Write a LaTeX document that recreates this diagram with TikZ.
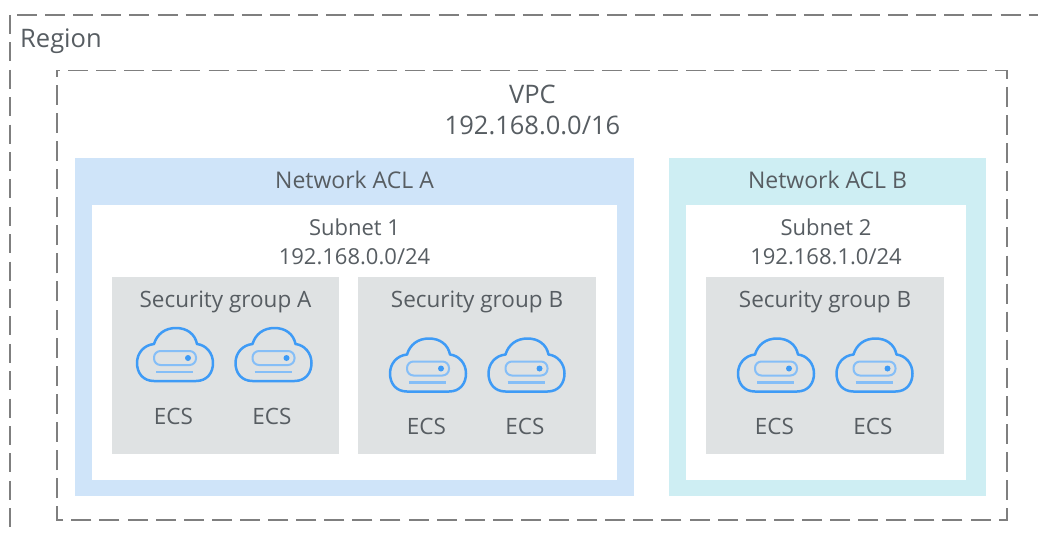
\documentclass[tikz,border=0pt]{standalone}
\usepackage{fontspec}
\setmainfont{Open Sans}
\definecolor{txt}{HTML}{575D62}
\definecolor{dashc}{HTML}{7F7F7F}
\definecolor{aclA}{HTML}{CFE4F9}
\definecolor{aclB}{HTML}{CEEEF3}
\definecolor{sg}{HTML}{DFE2E3}
\definecolor{ico}{HTML}{3E9BF6}
\definecolor{icol}{HTML}{85BEF7}
\tikzset{
 x=1pt,y=-1pt,
 lbl/.style={text=txt,font=\fontsize{22.5}{29}\selectfont,align=center,inner sep=0pt},
 acl/.style={text=txt,font=\fontsize{23}{29}\selectfont,align=center,inner sep=0pt},
 sub/.style={text=txt,font=\fontsize{22}{29}\selectfont,align=center,inner sep=0pt},
 big/.style={text=txt,font=\fontsize{25.5}{31}\selectfont,align=center,inner sep=0pt},
 dbox/.style={draw=dashc,line width=1.5pt,dash pattern=on 20pt off 8.1pt},
 dboxv/.style={draw=dashc,line width=1.5pt,dash pattern=on 19pt off 8.4pt},
 pics/ecs/.style={code={
  \draw[ico,line width=2.5pt,line join=round]
    (-21,27) .. controls (-32,27) and (-38,19) .. (-38,9)
    .. controls (-38,-1) and (-31,-9) .. (-21,-10)
    .. controls (-18,-20) and (-10,-26) .. (1,-26)
    .. controls (12,-26) and (20,-20) .. (22,-10)
    .. controls (31,-9) and (38,-1) .. (38,9)
    .. controls (38,19) and (32,27) .. (21,27) -- cycle;
  \draw[icol,line width=2pt,rounded corners=6.5pt] (-21,-3) rectangle (21,11);
  \fill[ico] (13,4) circle (3);
  \draw[icol,line width=2.2pt] (-19,18) -- (18,18);
 }}
}
\begin{document}
\begin{tikzpicture}
\useasboundingbox (0,0) rectangle (1038,533);
\fill[white] (0,0) rectangle (1038,533);
\coordinate (rTL) at (10,15);
\coordinate (rTS) at (17,15);
\coordinate (rTR) at (1038,15);
\coordinate (rBL) at (10,533);
\draw[dboxv] (rTL) -- (rBL);
\draw[dbox] (rTS) -- (rTR);
\node[big,anchor=west] (region) at (20,41) {Region};
\draw[dbox] (68,70.5) -- (1007,70.5) -- (1007,520) -- (57,520) -- (57,70.5) -- (60,70.5);
\node[big] (vpc) at (532.5,109.5) {VPC\\192.168.0.0/16};
\fill[aclA] (75,158) rectangle (634,496);
\fill[aclB] (669,158) rectangle (986,496);
\fill[white] (92,205) rectangle (617,480);
\fill[white] (686,205) rectangle (966,480);
\fill[sg] (112,277) rectangle (339,454);
\fill[sg] (358,277) rectangle (596,454);
\fill[sg] (706,277) rectangle (944,454);
\node[acl] (aclAl) at (354.5,180) {Network ACL A};
\node[acl] (aclBl) at (827.5,180) {Network ACL B};
\node[sub] (s1) at (354.5,242) {Subnet 1\\192.168.0.0/24};
\node[sub] (s2) at (826,242) {Subnet 2\\192.168.1.0/24};
\node[lbl] (sgA) at (225.5,301.5) {Security group A};
\node[lbl] (sgB1) at (477,301.5) {Security group B};
\node[lbl] (sgB2) at (825,301.5) {Security group B};
\foreach \x/\y in {175/354,273.5/354,428/364.5,526.5/364.5,776/364.5,874.5/364.5}{
  \pic at (\x,\y) {ecs};
}
\foreach \x/\y/\n in {173.5/416/e1,272/416/e2,426.5/426/e3,525/426/e4,774.5/426/e5,873/426/e6}{
  \node[lbl] (\n) at (\x,\y) {ECS};
}
\end{tikzpicture}
\end{document}
